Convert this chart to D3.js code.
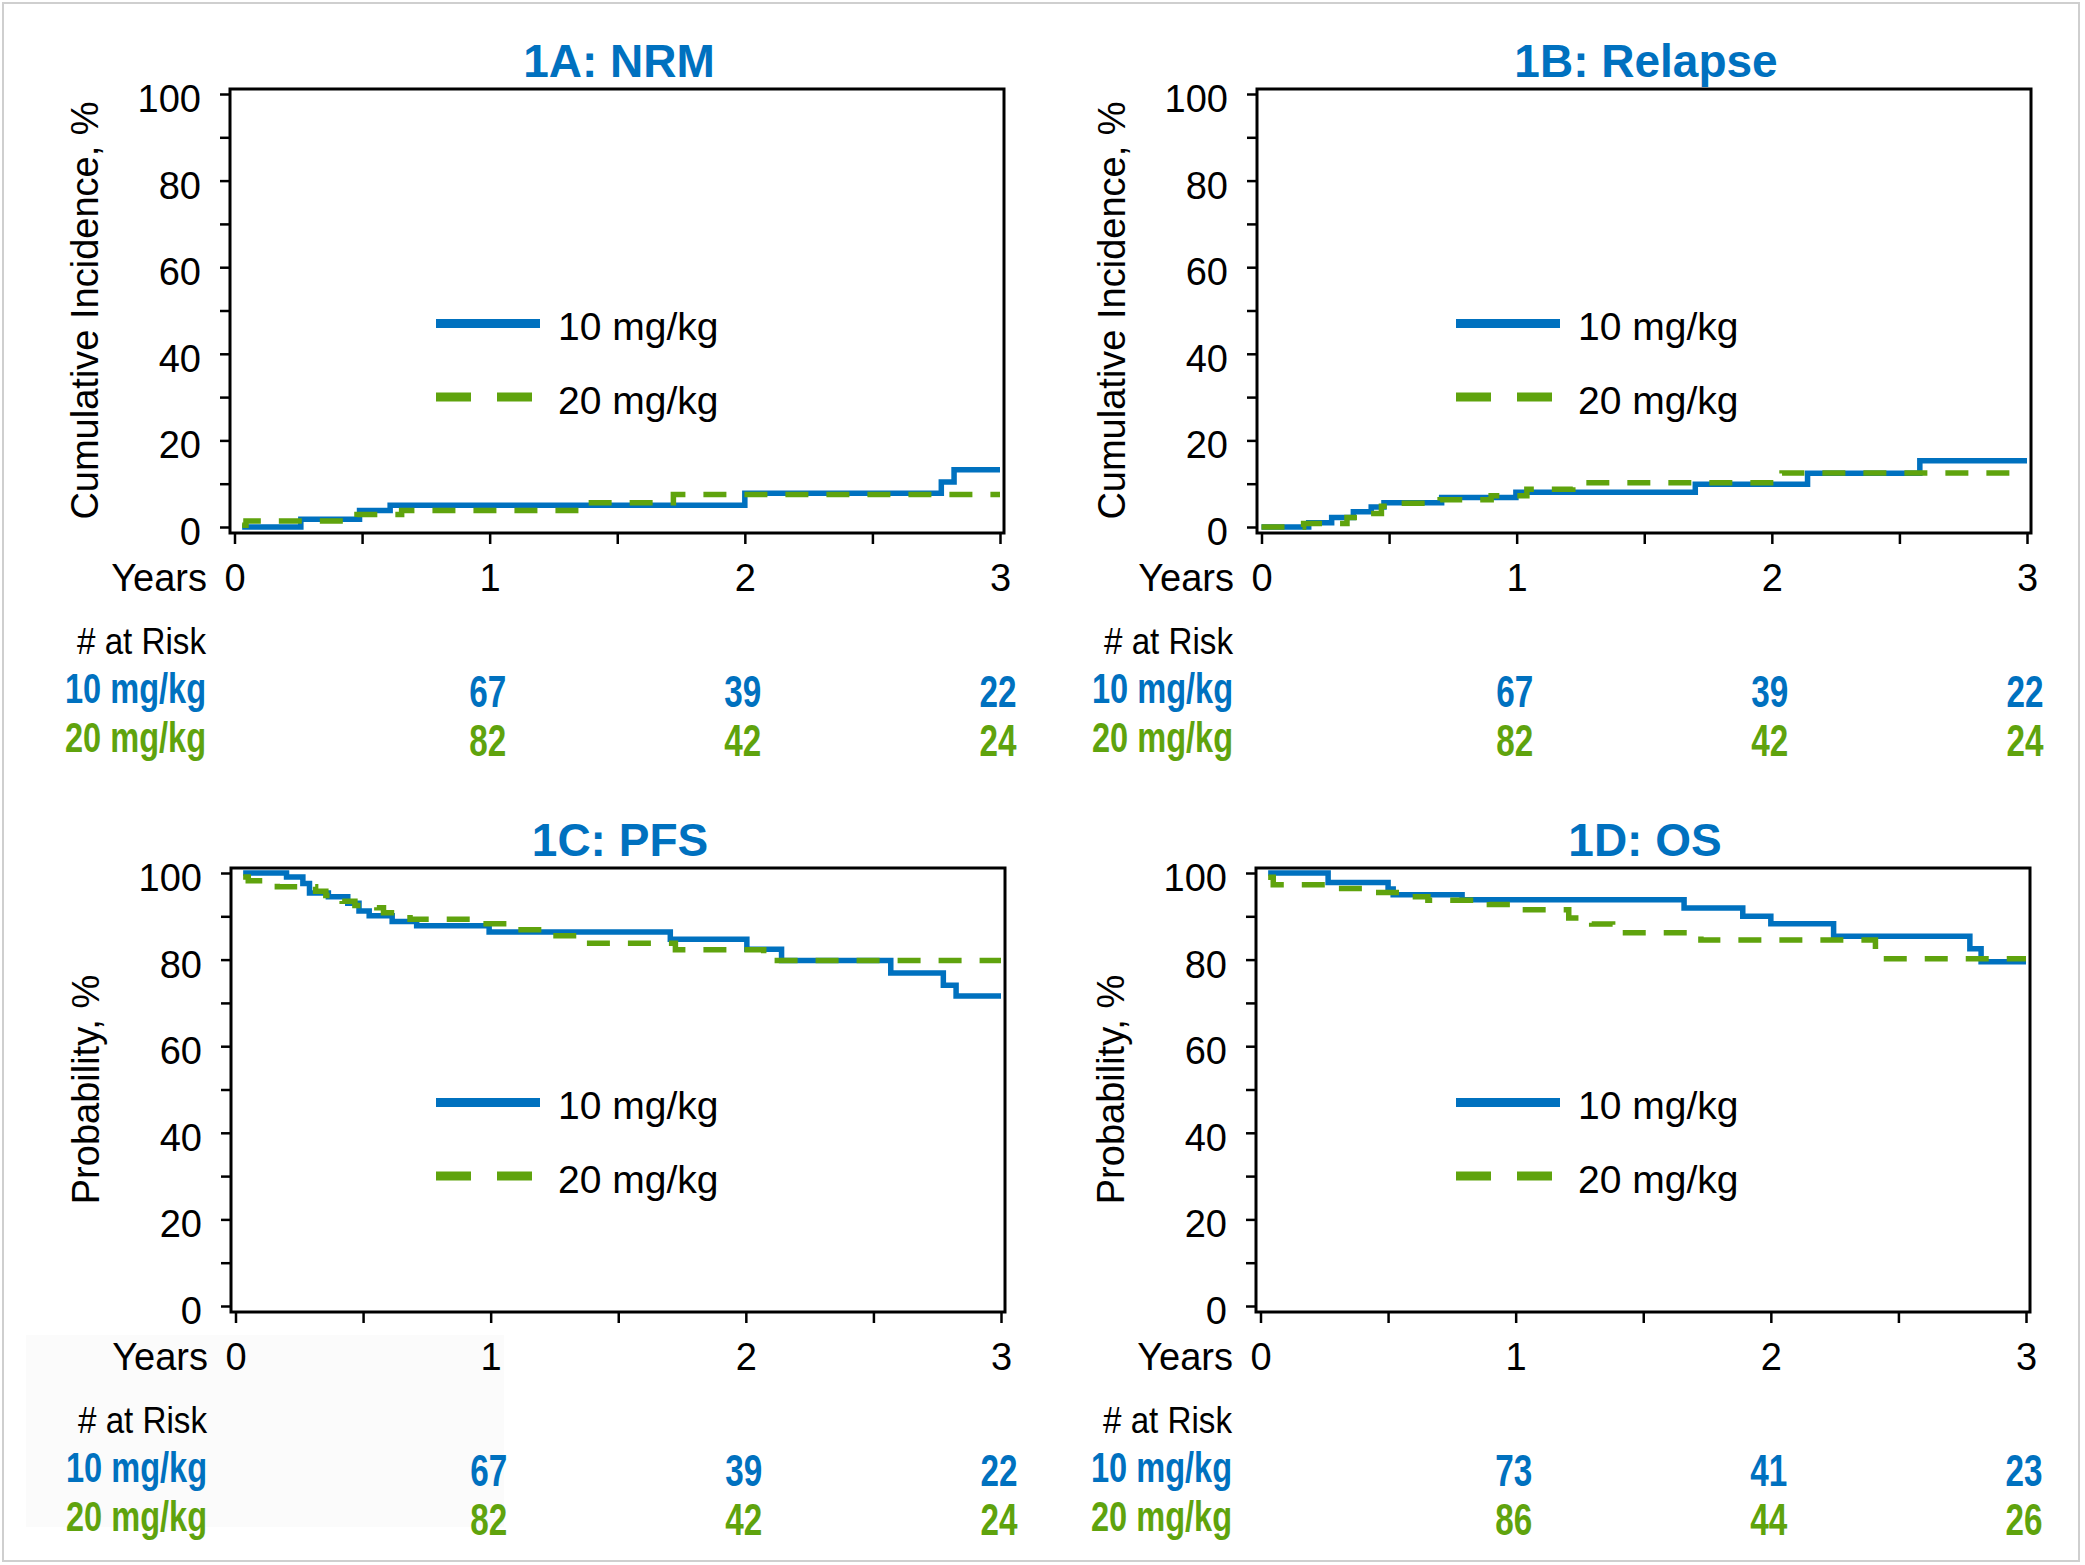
<!DOCTYPE html>
<html>
<head>
<meta charset="utf-8">
<script src="https://cdn.jsdelivr.net/npm/d3@7"></script>
<style>
  html, body { margin: 0; padding: 0; background: #fff; }
  svg { display: block; font-family: "Liberation Sans", Arial, sans-serif; }
</style>
</head>
<body>
<script>
// ---------------- DATA ----------------
const groups = ["10 mg/kg", "20 mg/kg"];
const titles = ["1A: NRM", "1B: Relapse", "1C: PFS", "1D: OS"];
const yLabels = ["Cumulative Incidence, %", "Cumulative Incidence, %", "Probability, %", "Probability, %"];
const xTickLabels = [0, 1, 2, 3];
const xMinorTicks = [0, 0.5, 1, 1.5, 2, 2.5, 3];
const yTickValues = [0, 10, 20, 30, 40, 50, 60, 70, 80, 90, 100];
const riskTimes = [1, 2, 3];

// number at risk
const riskNRM10 = [67, 39, 22], riskNRM20 = [82, 42, 24];
const riskRel10 = [67, 39, 22], riskRel20 = [82, 42, 24];
const riskPFS10 = [67, 39, 22], riskPFS20 = [82, 42, 24];
const riskOS10  = [73, 41, 23], riskOS20  = [86, 44, 26];

// step curves: [years, percent]
const nrm10 = [[0.03,0],[0.26,1.8],[0.49,3.8],[0.61,5.0],[2.0,7.8],[2.77,10.4],[2.82,13.2],[3.0,13.2]];
const nrm20 = [[0.03,0.4],[0.045,1.4],[0.48,2.9],[0.655,3.8],[1.37,5.6],[1.72,7.5],[3.0,7.5]];
const rel10 = [[0,0],[0.185,1.0],[0.275,2.2],[0.36,3.5],[0.43,4.6],[0.48,5.6],[0.706,6.8],[0.997,8.0],[1.70,9.9],[2.14,12.4],[2.58,15.3],[3.0,15.3]];
const rel20 = [[0,0],[0.165,0.8],[0.335,2.2],[0.40,3.1],[0.47,4.8],[0.56,5.5],[0.70,6.3],[0.90,7.2],[1.04,8.7],[1.22,10.2],[2.04,12.5],[3.0,12.5]];
const pfs10 = [[0.03,100],[0.2,99.1],[0.264,97.6],[0.29,95.4],[0.364,94.5],[0.44,93.0],[0.484,91.2],[0.524,90.1],[0.614,88.8],[0.71,87.8],[0.994,86.4],[1.704,84.7],[2.004,82.4],[2.14,79.8],[2.568,76.9],[2.774,74.1],[2.824,71.6],[3.0,71.6]];
const pfs20 = [[0.03,99.1],[0.05,98.2],[0.164,96.8],[0.314,95.8],[0.354,94.8],[0.418,93.5],[0.468,92.5],[0.554,92.0],[0.58,90.8],[0.684,89.3],[0.964,88.3],[1.08,86.9],[1.234,85.5],[1.374,83.8],[1.724,82.3],[2.07,79.8],[3.0,79.8]];
const os10 = [[0.03,100],[0.265,97.8],[0.50,96.3],[0.52,95.0],[0.79,93.8],[1.66,91.9],[1.89,90.0],[2.0,88.3],[2.246,85.4],[2.78,82.5],[2.824,79.5],[3.0,79.5]];
const os20 = [[0.03,99.0],[0.05,97.3],[0.30,96.4],[0.44,95.5],[0.596,94.5],[0.656,93.7],[0.897,92.7],[1.02,91.5],[1.208,89.6],[1.298,88.2],[1.38,86.2],[1.726,84.5],[2.41,80.2],[3.0,80.2]];

// ---------------- STYLE / LAYOUT ----------------
const W = 2085, H = 1565;
const BLUE = "#0071BF", GREEN = "#5FA30D";
const FONT = "'Liberation Sans', Arial, sans-serif";

const panels = [
  { ox: 0,    oy: 0,   lx: 436,  s10: nrm10, s20: nrm20, r10: riskNRM10, r20: riskNRM20 },
  { ox: 1027, oy: 0,   lx: 1456, s10: rel10, s20: rel20, r10: riskRel10, r20: riskRel20 },
  { ox: 1,    oy: 779, lx: 436,  s10: pfs10, s20: pfs20, r10: riskPFS10, r20: riskPFS20, shade: true },
  { ox: 1026, oy: 779, lx: 1456, s10: os10,  s20: os20,  r10: riskOS10,  r20: riskOS20 }
];

const svg = d3.select("body").append("svg")
  .attr("width", W).attr("height", H)
  .attr("viewBox", `0 0 ${W} ${H}`);

svg.append("rect").attr("x", 0).attr("y", 0).attr("width", W).attr("height", H).attr("fill", "#fff");
svg.append("rect").attr("x", 3).attr("y", 3).attr("width", 2076).attr("height", 1558)
  .attr("fill", "none").attr("stroke", "#cfcfcf").attr("stroke-width", 2);

panels.forEach((p, i) => {
  const g = svg.append("g");
  const ox = p.ox, oy = p.oy;
  const x = d3.scaleLinear().domain([0, 3]).range([234.5 + ox, 1000 + ox]);
  const y = d3.scaleLinear().domain([0, 100]).range([527 + oy, 94 + oy]);

  if (p.shade) {
    g.append("rect").attr("x", 26).attr("y", 1335).attr("width", 478).attr("height", 192)
      .attr("fill", "#fbfbfb");
  }

  // title
  g.append("text").attr("x", 619 + ox).attr("y", 76.5 + oy)
    .attr("text-anchor", "middle").attr("font-size", 46).attr("font-weight", "bold")
    .attr("fill", BLUE).text(titles[i]);

  // frame
  g.append("rect").attr("x", 230 + ox).attr("y", 89 + oy)
    .attr("width", 774).attr("height", 444)
    .attr("fill", "none").attr("stroke", "#000").attr("stroke-width", 3);

  // y axis ticks + labels
  const yAx = g.append("g").attr("transform", `translate(${230 + ox},0)`)
    .call(d3.axisLeft(y).tickValues(yTickValues).tickSize(10).tickPadding(19)
      .tickFormat(d => d % 20 === 0 ? d : ""));
  yAx.select(".domain").remove();
  yAx.selectAll("line").attr("stroke", "#000").attr("stroke-width", 2.5);
  yAx.selectAll("text").attr("font-size", 38).attr("font-family", FONT).attr("fill", "#000").attr("dy", "0.46em");

  // x axis ticks + labels
  const xAx = g.append("g").attr("transform", `translate(0,${533 + oy})`)
    .call(d3.axisBottom(x).tickValues(xMinorTicks).tickSize(11)
      .tickFormat(d => xTickLabels.includes(d) ? d : ""));
  xAx.select(".domain").remove();
  xAx.selectAll("line").attr("stroke", "#000").attr("stroke-width", 2.5);
  xAx.selectAll("text").attr("font-size", 38).attr("font-family", FONT).attr("fill", "#000")
    .attr("y", 57.5).attr("dy", 0);

  g.append("text").attr("x", 207 + ox).attr("y", 590.5 + oy)
    .attr("text-anchor", "end").attr("font-size", 38).text("Years");

  // y label
  g.append("text")
    .attr("transform", `translate(${98 + ox},${310.5 + oy}) rotate(-90)`)
    .attr("text-anchor", "middle").attr("font-size", 38).text(yLabels[i]);

  // curves
  const line = d3.line().x(d => x(d[0])).y(d => y(d[1])).curve(d3.curveStepAfter);
  g.append("path").datum(p.s10).attr("d", line)
    .attr("fill", "none").attr("stroke", BLUE).attr("stroke-width", 5.5);
  g.append("path").datum(p.s20).attr("d", line)
    .attr("fill", "none").attr("stroke", GREEN).attr("stroke-width", 5.5)
    .attr("stroke-dasharray", "23,18");

  // legend
  const ly1 = 323.5 + oy, ly2 = 397 + oy;
  g.append("line").attr("x1", p.lx).attr("x2", p.lx + 104).attr("y1", ly1).attr("y2", ly1)
    .attr("stroke", BLUE).attr("stroke-width", 9);
  g.append("line").attr("x1", p.lx).attr("x2", p.lx + 96).attr("y1", ly2).attr("y2", ly2)
    .attr("stroke", GREEN).attr("stroke-width", 9).attr("stroke-dasharray", "35,26");
  g.append("text").attr("x", p.lx + 122).attr("y", ly1 + 16.5).attr("font-size", 39).text(groups[0]);
  g.append("text").attr("x", p.lx + 122).attr("y", ly2 + 16.5).attr("font-size", 39).text(groups[1]);

  // at risk table
  g.append("text").attr("x", 206 + ox).attr("y", 654 + oy).attr("text-anchor", "end")
    .attr("font-size", 36).attr("textLength", 129).attr("lengthAdjust", "spacingAndGlyphs")
    .text("# at Risk");
  [[groups[0], BLUE, 703], [groups[1], GREEN, 752]].forEach(([lab, col, by]) => {
    g.append("text").attr("x", 206 + ox - 141).attr("y", by + oy)
      .attr("font-size", 43).attr("font-weight", "bold").attr("fill", col)
      .attr("textLength", 141).attr("lengthAdjust", "spacingAndGlyphs").text(lab);
  });
  [[p.r10, BLUE, 707], [p.r20, GREEN, 756]].forEach(([vals, col, by]) => {
    g.selectAll(null).data(vals).enter().append("text")
      .attr("x", (d, k) => x(riskTimes[k]) - 2 - 18.5).attr("y", by + oy)
      .attr("font-size", 44).attr("font-weight", "bold").attr("fill", col)
      .attr("textLength", 37).attr("lengthAdjust", "spacingAndGlyphs")
      .text(d => d);
  });
});
</script>
</body>
</html>
